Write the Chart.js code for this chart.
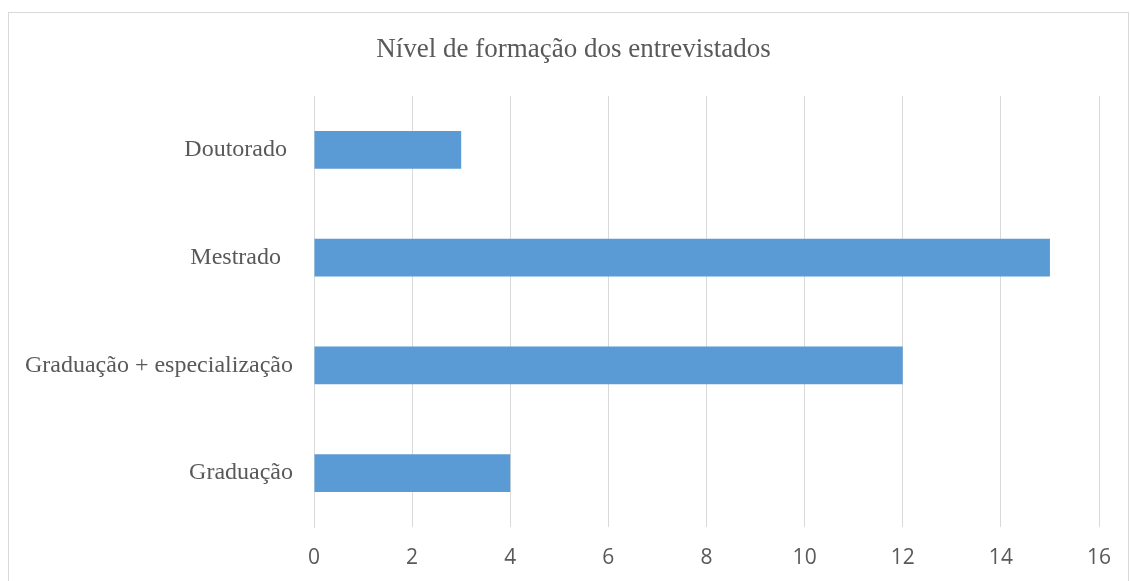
<!DOCTYPE html>
<html>
<head>
<meta charset="utf-8">
<script src="https://cdn.jsdelivr.net/npm/chart.js@4"></script>
<style>
  html, body { margin: 0; padding: 0; background: #ffffff; }
  #wrap { position: relative; width: 1130px; height: 581px; }
  #frame { position: absolute; left: 8px; top: 12px; width: 1121px; height: 600px; border: 1px solid #d9d9d9; box-sizing: border-box; pointer-events: none; }
  canvas { position: absolute; left: 0; top: 0; }
</style>
</head>
<body>
<div id="wrap">
  <canvas id="c" width="1130" height="581"></canvas>
  <div id="frame"></div>
</div>
<script>
const chartTitle = "Nível de formação dos entrevistados";
const categories = ["Doutorado ", "Mestrado  ", "Graduação + especialização", "Graduação"];
const values = [3, 15, 12, 4];
const xTicks = [0, 2, 4, 6, 8, 10, 12, 14, 16];

// centre the title over the frame rather than the plot's full width
const titleShift = {
  id: "titleShift",
  afterLayout(chart) {
    if (chart.titleBlock) chart.titleBlock.left = 48;
  }
};

new Chart(document.getElementById("c"), {
  type: "bar",
  data: {
    labels: categories,
    datasets: [{
      data: values,
      backgroundColor: "#5b9bd5",
      borderWidth: 0,
      categoryPercentage: 0.35,
      barPercentage: 1.0
    }]
  },
  plugins: [titleShift],
  options: {
    indexAxis: "y",
    responsive: false,
    animation: false,
    layout: { padding: { left: 0, right: 31, top: 0, bottom: 0 } },
    plugins: {
      legend: { display: false },
      tooltip: { enabled: false },
      title: {
        display: true,
        text: chartTitle,
        color: "#595959",
        font: { family: "'Liberation Serif', 'DejaVu Serif', serif", size: 27, weight: "normal", lineHeight: 1.2 },
        padding: { top: 34, bottom: 29.6 }
      }
    },
    scales: {
      x: {
        min: xTicks[0],
        max: xTicks[xTicks.length - 1],
        afterBuildTicks: (s) => { s.ticks = xTicks.map(v => ({ value: v })); },
        grid: { color: "#d9d9d9", lineWidth: 1, drawTicks: false },
        border: { display: false },
        ticks: {
          color: "#595959",
          padding: 18,
          font: { family: "'Open Sans', 'Noto Sans', sans-serif", size: 21 }
        },
        afterFit: (s) => { s.height = 54; }
      },
      y: {
        grid: { display: false, drawTicks: false },
        border: { display: true, color: "#d9d9d9" },
        ticks: {
          color: "#595959",
          padding: 21,
          font: { family: "'Liberation Serif', 'DejaVu Serif', serif", size: 24 }
        },
        afterFit: (s) => { s.width = 314; }
      }
    }
  }
});
</script>
</body>
</html>
